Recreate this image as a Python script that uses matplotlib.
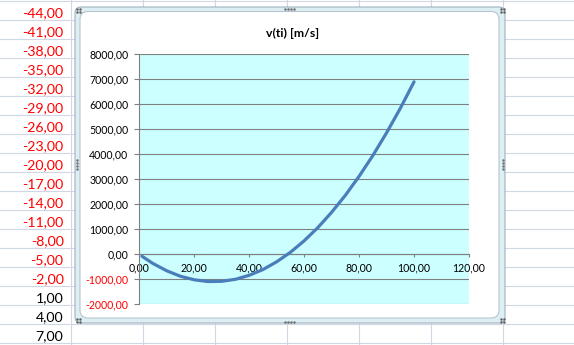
import matplotlib.pyplot as plt
from matplotlib.patches import FancyBboxPatch
from matplotlib.ticker import FuncFormatter, MultipleLocator

plt.rcParams['font.family'] = ['Lato', 'DejaVu Sans']

# spreadsheet column A values (left of the chart)
cell_values = [-44, -41, -38, -35, -32, -29, -26, -23, -20, -17,
               -14, -11, -8, -5, -2, 1, 4, 7]

# series v(ti)
t = [1, 5, 10, 15, 20, 25, 30, 35, 40, 45, 50,
     55, 60, 65, 70, 75, 80, 85, 90, 95, 100]
v = [-80, -370, -660, -880, -1020, -1090, -1080, -1000, -840, -610, -300,
     80, 540, 1070, 1680, 2360, 3120, 3950, 4860, 5840, 6900]

title = "v(ti) [m/s]"


def comma_fmt(val, pos=None):
    return f"{val:.2f}".replace('.', ',')


fig = plt.figure(figsize=(5.74, 3.45), dpi=100)

# background: worksheet grid, cells and chart frame, in pixel units
bg = fig.add_axes([0, 0, 1, 1], zorder=0)
bg.set_xlim(0, 574)
bg.set_ylim(345, 0)
bg.axis('off')

grid_col = '#D0D7E5'
for k in range(19):
    bg.axhline(1 + 19 * k, color=grid_col, lw=0.8, zorder=0.5)
for x in [71, 142.5, 214.5, 286.5, 358.5, 430.5, 502.5]:
    bg.axvline(x, color=grid_col, lw=0.8, zorder=0.5)

for k, val in enumerate(cell_values):
    bg.text(63.5, 20 + 19 * k - 2.5, comma_fmt(val), ha='right', va='baseline',
            fontsize=10.2, color='#FF0000' if val < 0 else 'black')

frame = FancyBboxPatch((75, 7), 430, 316, boxstyle="round,pad=0,rounding_size=6",
                       facecolor='#DDEFF3', edgecolor='#9FB3BF', lw=0.8, zorder=1)
bg.add_patch(frame)
inner = FancyBboxPatch((80, 11.5), 419, 306.5, boxstyle="round,pad=0,rounding_size=8",
                       facecolor='white', edgecolor='#B4C6D0', lw=0.8, zorder=1.1)
bg.add_patch(inner)

# resize grips
for gx, gy in [(78, 10), (502, 10), (78, 320), (502, 320)]:
    bg.scatter([gx - 1.5, gx + 1.5, gx - 1.5, gx + 1.5], [gy - 1.5, gy - 1.5, gy + 1.5, gy + 1.5],
               s=0.6, color='#606060', zorder=5)
for gx in [285, 288, 291, 294]:
    bg.scatter([gx, gx], [8.5, 321.5], s=0.6, color='#707070', zorder=5)
for gy in [160, 163, 166, 169]:
    bg.scatter([77, 502.5], [gy, gy], s=0.6, color='#707070', zorder=5)

fig.text(293 / 574, 1 - 33 / 345, title, ha='center', va='center',
         fontsize=8.8, fontweight='bold')

# chart
ax = fig.add_axes([139.3 / 574, (345 - 304.3) / 345, 329.7 / 574, 250 / 345], zorder=3)
ax.set_facecolor('#CCFFFF')
ax.plot(t, v, color='#4A7EBB', lw=2.3, solid_capstyle='round', zorder=4)

ax.set_xlim(0, 120)
ax.set_ylim(-2000, 8000)
ax.xaxis.set_major_locator(MultipleLocator(20))
ax.yaxis.set_major_locator(MultipleLocator(1000))
ax.xaxis.set_major_formatter(FuncFormatter(comma_fmt))
ax.yaxis.set_major_formatter(FuncFormatter(comma_fmt))
ax.grid(axis='y', color='#808080', lw=0.8)
ax.set_axisbelow(True)

for s in ['top', 'right']:
    ax.spines[s].set_visible(False)
ax.spines['bottom'].set_position(('data', 0))
ax.spines['left'].set_color('#808080')
ax.spines['bottom'].set_color('#808080')
ax.spines['left'].set_linewidth(0.8)
ax.spines['bottom'].set_linewidth(0.8)

ax.tick_params(axis='both', direction='out', color='#808080', width=0.8, labelsize=7.6)
ax.tick_params(axis='y', length=3.5, pad=4.5)
ax.tick_params(axis='x', length=2.5, pad=3)

for lbl, val in zip(ax.get_yticklabels(), ax.get_yticks()):
    if val < 0:
        lbl.set_color('#FF0000')

fig.savefig('out.png', dpi=100)
